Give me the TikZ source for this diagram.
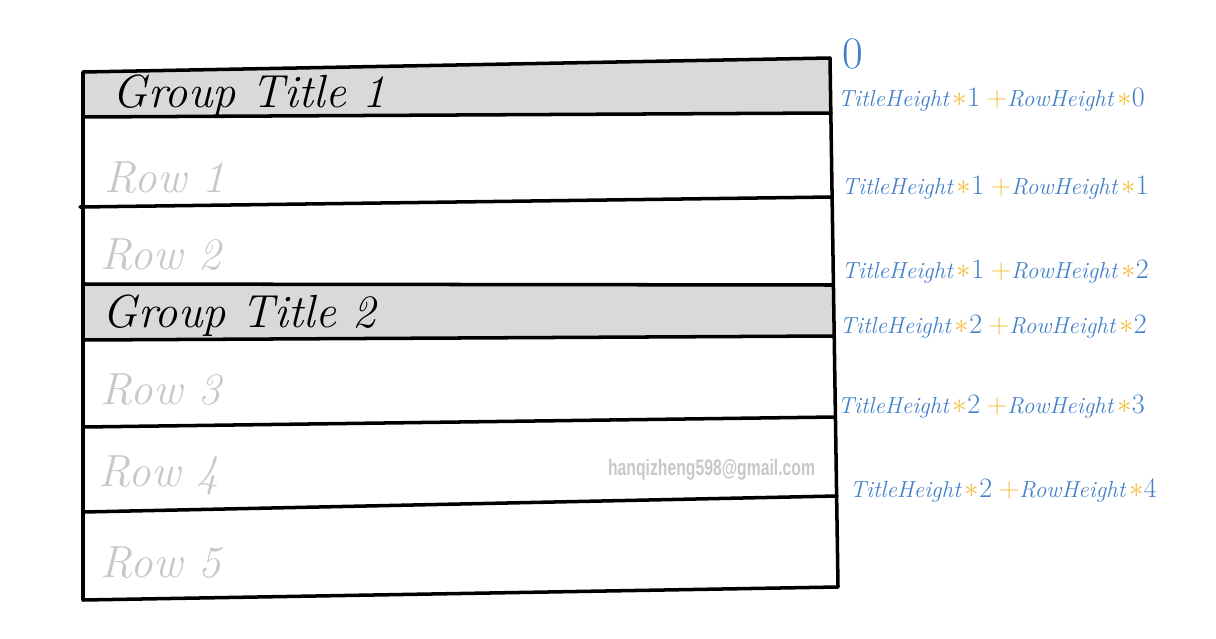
\documentclass[tikz,border=0pt]{standalone}
\usepackage{fontspec}
\newfontfamily\markfont[FakeStretch=0.7]{Liberation Sans}
\definecolor{labelblue}{RGB}{66,128,200}
\definecolor{labelyellow}{RGB}{244,190,60}
\definecolor{rowgray}{RGB}{200,200,200}
\definecolor{bandgray}{RGB}{217,217,217}
\newcommand{\bigpart}[2]{{\color{#1}\fontsize{20}{24}\selectfont#2}}
\newcommand{\offsetlabel}[2]{%
  {\color{labelblue}\itshape TitleHeight}\,\bigpart{labelyellow}{$\ast$}\bigpart{labelblue}{#1}\ %
  \bigpart{labelyellow}{+}{\color{labelblue}\itshape RowHeight}\,\bigpart{labelyellow}{$\ast$}\bigpart{labelblue}{#2}}

\begin{document}
\begin{tikzpicture}[x=0.025cm, y=-0.025cm,
    rule/.style={line width=2.5pt, line cap=round, line join=round},
    grouptitle/.style={anchor=west, font=\fontsize{33}{40}\selectfont\itshape},
    rowtext/.style={anchor=west, text=rowgray, font=\fontsize{32}{38}\selectfont\itshape},
    offset/.style={anchor=west, font=\fontsize{16.5}{20}\selectfont}]
    \useasboundingbox (0,0) rectangle (1216,638);

    % Corners of the table and ends of the rules
    \coordinate (tl) at (83, 72);    \coordinate (tr) at (830, 58);
    \coordinate (g1l) at (83, 117);  \coordinate (g1r) at (831, 113);
    \coordinate (r1l) at (80, 207);  \coordinate (r1r) at (832, 197);
    \coordinate (r2l) at (83, 284);  \coordinate (r2r) at (833, 285);
    \coordinate (g2l) at (83, 340);  \coordinate (g2r) at (834, 336);
    \coordinate (r3l) at (83, 427);  \coordinate (r3r) at (835, 417);
    \coordinate (r4l) at (83, 512);  \coordinate (r4r) at (837, 496);
    \coordinate (bl) at (83, 600);   \coordinate (br) at (838, 587);

    % Shaded group title bands
    \fill[bandgray] (tl) -- (tr) -- (g1r) -- (g1l) -- cycle;
    \fill[bandgray] (r2l) -- (r2r) -- (g2r) -- (g2l) -- cycle;

    % Rules of the table
    \draw[rule] (tl) -- (tr) -- (br) -- (bl) -- cycle;
    \draw[rule] (g1l) -- (g1r);
    \draw[rule] (r1l) -- (r1r);
    \draw[rule] (r2l) -- (r2r);
    \draw[rule] (g2l) -- (g2r);
    \draw[rule] (r3l) -- (r3r);
    \draw[rule] (r4l) -- (r4r);

    % Group titles
    \node[grouptitle] (title1) at (108, 96) {Group Title 1};
    \node[grouptitle] (title2) at (98, 316) {Group Title 2};

    % Rows
    \node[rowtext] (row1) at (100, 178) {Row 1};
    \node[rowtext] (row2) at (96, 255) {Row 2};
    \node[rowtext] (row3) at (96, 390) {Row 3};
    \node[rowtext] (row4) at (94, 475) {Row 4};
    \node[rowtext] (row5) at (96, 563) {Row 5};

    % Watermark
    \node[anchor=east, text=rowgray, font=\markfont\bfseries\fontsize{16}{19}\selectfont] (mail) at (820, 470) {hanqizheng598@gmail.com};

    % Offsets of the rules
    \node[anchor=west, text=labelblue, font=\fontsize{32}{38}\selectfont] (off0) at (838, 54) {0};
    \node[offset] (off1) at (833, 100) {\offsetlabel{1}{0}};
    \node[offset] (off2) at (837, 188) {\offsetlabel{1}{1}};
    \node[offset] (off3) at (837, 272) {\offsetlabel{1}{2}};
    \node[offset] (off4) at (835, 327) {\offsetlabel{2}{2}};
    \node[offset] (off5) at (833, 407) {\offsetlabel{2}{3}};
    \node[offset] (off6) at (845, 490) {\offsetlabel{2}{4}};

\end{tikzpicture}
\end{document}
